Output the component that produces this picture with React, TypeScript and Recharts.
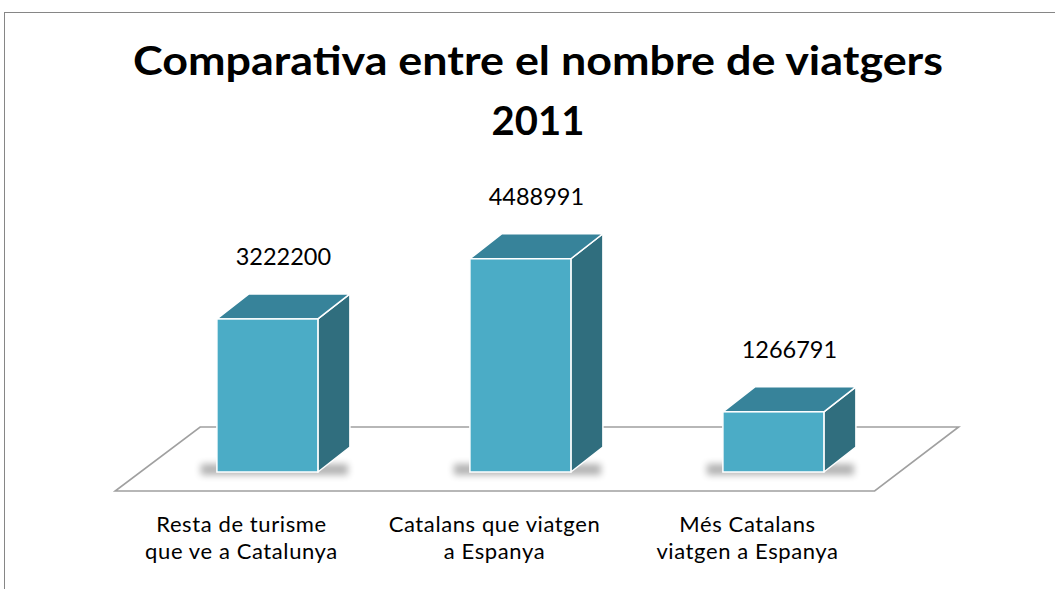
import { BarChart, Bar, XAxis, YAxis } from 'recharts';

// categories (two lines each) and values
const categories = [
  'Resta de turisme|que ve a Catalunya',
  'Catalans que viatgen|a Espanya',
  'Més Catalans|viatgen a Espanya',
];
const viatgers = [3222200, 4488991, 1266791];

const data = categories.map((c, i) => ({ cat: c, value: viatgers[i] }));

const FONT = 'Lato, "Open Sans", sans-serif';
const COL_FRONT = '#4bacc6';
const COL_TOP = '#37839a';
const COL_SIDE = '#306e7e';
const DX = 32; // depth of the cuboids
const DY = -25;

function Floor({ x, width, base }: { x: number; width: number; base: number }) {
  // band geometry derived from the first bar (barCategoryGap 30%)
  const step = width / 0.4;
  const start = x - step * 0.3;
  const end = start + step * categories.length;
  const pts = [
    [start - 26, base + 19],
    [end - 24, base + 19],
    [end + 60, base - 45],
    [start + 59, base - 45],
  ];
  return (
    <polygon
      points={pts.map((p) => p.join(',')).join(' ')}
      fill="#fff"
      stroke="#a0a0a0"
      strokeWidth={1.6}
    />
  );
}

function Cuboid(props: any) {
  const { x, y, width: w, height: h, index, value } = props;
  const base = y + h;
  const top = `${x},${y} ${x + DX},${y + DY} ${x + w + DX},${y + DY} ${x + w},${y}`;
  const side = `${x + w},${y} ${x + w + DX},${y + DY} ${x + w + DX},${base + DY} ${x + w},${base}`;
  return (
    <g>
      {index === 0 && <Floor x={x} width={w} base={base} />}
      <rect
        x={x - 16}
        y={base - 8}
        width={w + DX + 14}
        height={11}
        fill="#000"
        opacity={0.3}
        filter="url(#barShadow)"
      />
      <polygon points={side} fill={COL_SIDE} stroke="#fff" strokeWidth={1.5} strokeLinejoin="round" />
      <polygon points={top} fill={COL_TOP} stroke="#fff" strokeWidth={1.5} strokeLinejoin="round" />
      <rect x={x} y={y} width={w} height={h} fill={COL_FRONT} stroke="#fff" strokeWidth={1.5} />
      <text
        x={x + w / 2 + 16}
        y={y - 54}
        textAnchor="middle"
        fontFamily={FONT}
        fontSize={23.5}
        fill="#000"
      >
        {value}
      </text>
    </g>
  );
}

function CatTick(props: any) {
  const { x, y, payload } = props;
  const lines = String(payload.value).split('|');
  return (
    <g>
      {lines.map((l, i) => (
        <text
          key={i}
          x={x - 26}
          y={y + 60 + i * 27}
          textAnchor="middle"
          fontFamily={FONT}
          fontSize={22}
          letterSpacing={0.6}
          fill="#000"
        >
          {l}
        </text>
      ))}
    </g>
  );
}

export default function App() {
  return (
    <div style={{ position: 'absolute', left: 0, top: 0, width: 1055, height: 589, background: '#fff' }}>
      <div
        style={{
          position: 'absolute',
          left: 4,
          top: 12,
          width: 1100,
          height: 600,
          borderLeft: '1.5px solid #868686',
          borderTop: '1.5px solid #868686',
        }}
      />
      <svg width={1055} height={150} style={{ position: 'absolute', left: 0, top: 0 }}>
        <text x={538} y={75} textAnchor="middle" fontFamily={FONT} fontWeight={700} fontSize={40} textLength={810} lengthAdjust="spacingAndGlyphs">
          Comparativa entre el nombre de viatgers
        </text>
        <text x={538} y={135} textAnchor="middle" fontFamily={FONT} fontWeight={700} fontSize={40}>
          2011
        </text>
      </svg>
      <div style={{ position: 'absolute', left: 0, top: 0 }}>
        <BarChart
          width={1055}
          height={589}
          data={data}
          margin={{ top: 234.5, right: 155, left: 141, bottom: 0 }}
          barCategoryGap="30%"
        >
          <defs>
            <filter id="barShadow" x="-20%" y="-200%" width="140%" height="500%">
              <feGaussianBlur stdDeviation="3.5" />
            </filter>
          </defs>
          <XAxis
            dataKey="cat"
            axisLine={false}
            tickLine={false}
            tickSize={0}
            tickMargin={0}
            interval={0}
            height={117}
            tick={<CatTick />}
          />
          <YAxis hide domain={[0, 5000000]} />
          <Bar dataKey="value" shape={<Cuboid />} isAnimationActive={false} />
        </BarChart>
      </div>
    </div>
  );
}
